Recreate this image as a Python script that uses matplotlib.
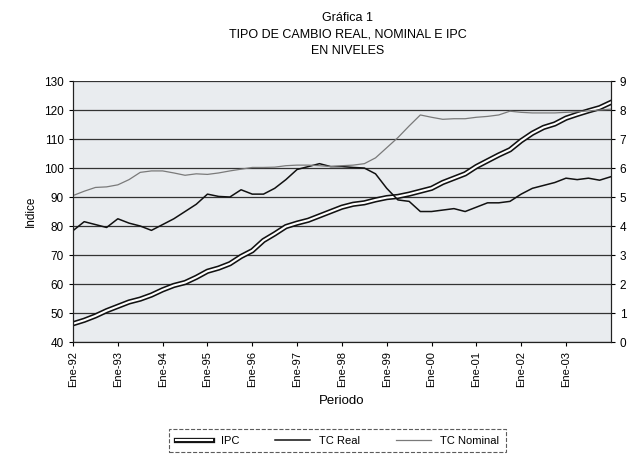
import numpy as np
import matplotlib
matplotlib.use("Agg")
import matplotlib.pyplot as plt
import matplotlib.patheffects as pe

plt.rcParams['font.family'] = ['Liberation Sans', 'DejaVu Sans']

# trimestres, Ene-92 .. Ene-04
periodo = np.arange(1992, 2004.01, 0.25)

ipc = [46.3, 47.5, 49.0, 50.8, 52.3, 53.8, 54.8, 56.2, 58.0, 59.5, 60.5, 62.3,
       64.4, 65.5, 67.0, 69.5, 71.5, 75.0, 77.3, 79.8, 81.0, 82.0, 83.5, 85.0,
       86.5, 87.5, 88.0, 89.0, 89.8, 90.2, 91.0, 92.0, 93.0, 95.0, 96.5, 98.0,
       100.5, 102.5, 104.5, 106.3, 109.4, 112.0, 114.0, 115.2, 117.2, 118.5, 119.7, 120.8,
       122.6]

tc_real = [78.4, 81.5, 80.5, 79.5, 82.5, 81.0, 80.0, 78.5, 80.5, 82.5, 85.0, 87.5,
           91.0, 90.2, 90.0, 92.5, 91.0, 91.0, 93.0, 96.0, 99.5, 100.5, 101.5, 100.5,
           100.5, 100.2, 100.0, 98.0, 93.0, 89.0, 88.5, 85.0, 85.0, 85.5, 86.0, 85.0,
           86.5, 88.0, 88.0, 88.5, 91.0, 93.0, 94.0, 95.0, 96.5, 96.0, 96.5, 95.8,
           97.0]

tc_nominal = [5.05, 5.20, 5.33, 5.35, 5.42, 5.60, 5.85, 5.90, 5.90, 5.83, 5.75, 5.80,
              5.78, 5.83, 5.90, 5.96, 6.02, 6.02, 6.03, 6.08, 6.10, 6.10, 6.08, 6.05,
              6.08, 6.10, 6.15, 6.35, 6.70, 7.05, 7.45, 7.83, 7.75, 7.68, 7.70, 7.70,
              7.75, 7.78, 7.83, 7.96, 7.92, 7.90, 7.90, 7.90, 7.92, 7.94, 7.97, 8.00,
              8.03]

anios = list(range(1992, 2004))
etiquetas = ['Ene-%02d' % (a % 100) for a in anios]

fig = plt.figure(figsize=(6.31, 4.63), dpi=100)
ax = fig.add_axes([0.1157, 0.2613, 0.8523, 0.5637])
ax2 = ax.twinx()

ax.set_facecolor('#e9ecef')
ax.set_ylim(40, 130)
ax.set_yticks(range(40, 131, 10))
ax.grid(axis='y', color='#333333', lw=0.9)
ax.set_axisbelow(True)
ax2.set_ylim(0, 9)
ax2.set_yticks(range(0, 10))

ax.plot(periodo, ipc, color='white', lw=1.5, label='IPC',
        path_effects=[pe.Stroke(linewidth=3.8, foreground='#111111'), pe.Normal()])
ax.plot(periodo, tc_real, color='#111111', lw=1.1, label='TC Real')
l3, = ax2.plot(periodo, tc_nominal, color='#7a7a7a', lw=0.9, label='TC Nominal')

ax.set_xlim(1992, 2004)
ax.set_xticks(anios)
ax.set_xticklabels(etiquetas, rotation=90, fontsize=8)
ax.tick_params(axis='y', labelsize=8.5, length=3)
ax2.tick_params(axis='y', labelsize=8.5, length=3)
ax.tick_params(axis='x', length=3)

for a in (ax, ax2):
    for s in a.spines.values():
        s.set_color('#222222')
        s.set_linewidth(0.8)
ax2.spines['top'].set_visible(False)
ax.spines['top'].set_visible(False)

ax.set_ylabel('Indice', fontsize=8.5, labelpad=5)
ax.set_xlabel('Periodo', fontsize=9.5, labelpad=6)

fig.text(0.551, 0.962, 'Gráfica 1', ha='center', va='center', fontsize=9)
fig.text(0.551, 0.925, 'TIPO DE CAMBIO REAL, NOMINAL E IPC', ha='center', va='center', fontsize=9)
fig.text(0.551, 0.889, 'EN NIVELES', ha='center', va='center', fontsize=9)

h1, lab1 = ax.get_legend_handles_labels()
leg = fig.legend(h1 + [l3], lab1 + ['TC Nominal'], loc='center',
                 bbox_to_anchor=(0.535, 0.048), ncol=3, fontsize=8,
                 frameon=True, fancybox=False, handlelength=3.2,
                 columnspacing=3.2, borderpad=0.6)
leg.get_frame().set_edgecolor('#333333')
leg.get_frame().set_linestyle('--')
leg.get_frame().set_linewidth(0.8)

fig.savefig('out.png', dpi=100)
